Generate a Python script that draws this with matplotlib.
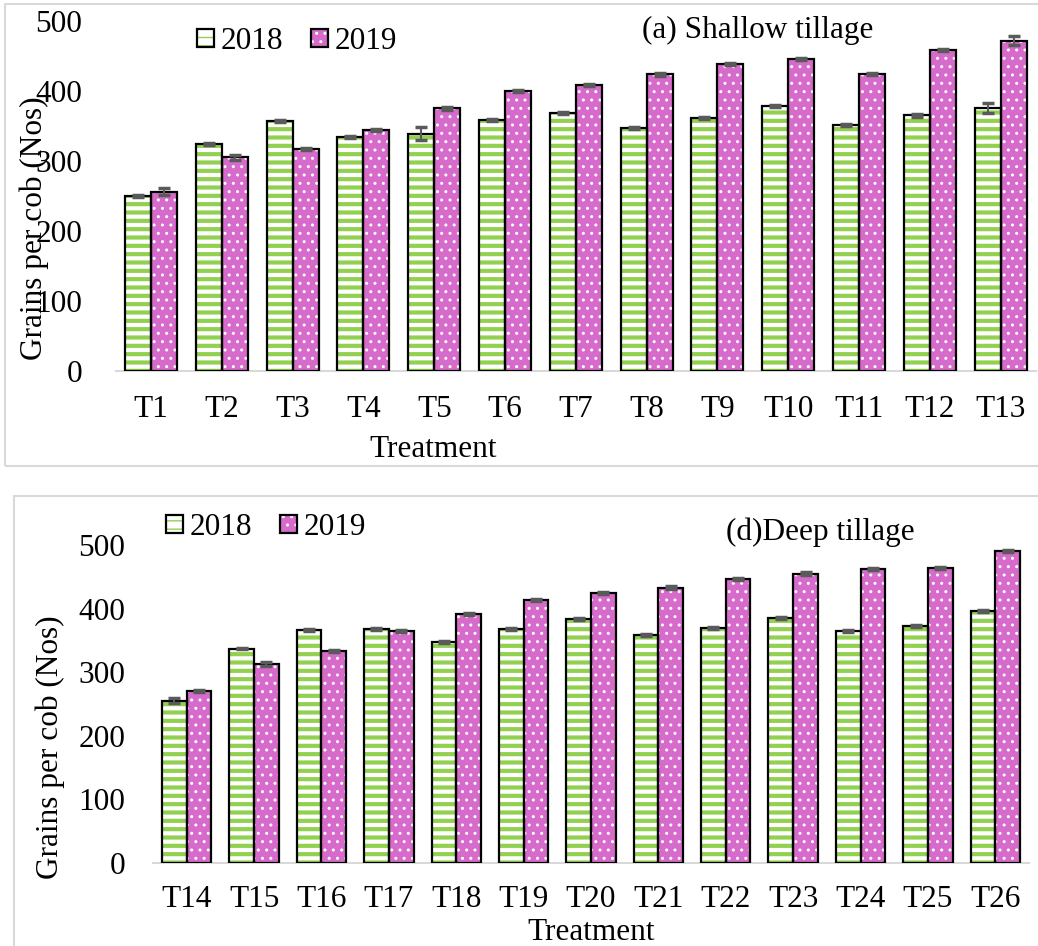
import numpy as np
import matplotlib.pyplot as plt
from matplotlib.patches import Patch, Rectangle
from matplotlib.legend_handler import HandlerTuple

plt.rcParams['font.family'] = ['Liberation Serif', 'DejaVu Serif']
FS = 22.5

GREEN = '#92D050'
PINK = '#D76BCB'
ERR = '#5A5A5A'
FRAME = '#D9D9D9'

# grains per cob, shallow tillage
shallow_trt = ['T1', 'T2', 'T3', 'T4', 'T5', 'T6', 'T7', 'T8', 'T9', 'T10', 'T11', 'T12', 'T13']
shallow_2018 = [250, 324, 357, 334, 339, 359, 369, 347, 361, 379, 351, 365, 376]
shallow_2019 = [256, 305, 317, 344, 375, 400, 409, 424, 439, 446, 424, 459, 472]
shallow_err_2018 = [1.5, 1.5, 1.5, 1.5, 9, 1.5, 1.5, 1.5, 1.5, 1.5, 1.5, 1.5, 7]
shallow_err_2019 = [5, 3.5, 1.5, 1.5, 1.5, 1.5, 1.5, 2, 1.5, 1.5, 1.5, 1.5, 7]

# grains per cob, deep tillage
deep_trt = ['T14', 'T15', 'T16', 'T17', 'T18', 'T19', 'T20', 'T21', 'T22', 'T23', 'T24', 'T25', 'T26']
deep_2018 = [255, 337, 366, 368, 347, 368, 383, 358, 370, 385, 364, 373, 396]
deep_2019 = [270, 312, 333, 365, 392, 414, 424, 433, 446, 455, 462, 464, 490]
deep_err_2018 = [3.5, 1.5, 1.5, 1.5, 1.5, 1.5, 1.5, 1.5, 1.5, 1.5, 1.5, 1.5, 1.5]
deep_err_2019 = [1.5, 3, 2, 1.5, 1.5, 1.5, 1.5, 3, 1.5, 2, 1.5, 1.5, 1.5]

W, H = 1038, 946
fig = plt.figure(figsize=(W / 100, H / 100), dpi=100)


def px(x0, y0, x1, y1):
    # pixel box -> figure fraction [left, bottom, width, height]
    return [x0 / W, 1 - y1 / H, (x1 - x0) / W, (y1 - y0) / H]


def hatch_lw(bars, lw):
    for p in bars:
        if hasattr(p, 'set_hatch_linewidth'):
            p.set_hatch_linewidth(lw)


def draw_panel(ax, labels, v18, v19, e18, e19, w=0.367):
    x = np.arange(len(labels))
    b = ax.bar(x - w / 2, v18, w, color='white', edgecolor=GREEN, hatch='--', linewidth=0, zorder=2)
    hatch_lw(b, 3.0)
    ax.bar(x - w / 2, v18, w, fill=False, edgecolor='black', linewidth=1.6, zorder=3)
    b = ax.bar(x + w / 2, v19, w, color=PINK, edgecolor='white', hatch='..', linewidth=0, zorder=2)
    hatch_lw(b, 1.0)
    ax.bar(x + w / 2, v19, w, fill=False, edgecolor='black', linewidth=1.6, zorder=3)
    ax.errorbar(x - w / 2, v18, yerr=e18, fmt='none', ecolor=ERR, elinewidth=1.5,
                capsize=4, capthick=2.5, zorder=4, clip_on=False)
    ax.errorbar(x + w / 2, v19, yerr=e19, fmt='none', ecolor=ERR, elinewidth=1.5,
                capsize=4, capthick=2.5, zorder=4, clip_on=False)
    ax.set_xticks(x)
    ax.set_xticklabels(labels)
    ax.set_xlim(-0.5, len(labels) - 0.5)
    ax.set_ylim(0, 500)
    ax.set_yticks([0, 100, 200, 300, 400, 500])
    for s in ['top', 'right', 'left']:
        ax.spines[s].set_visible(False)
    ax.spines['bottom'].set_color(FRAME)
    ax.spines['bottom'].set_linewidth(1.5)
    ax.spines['bottom'].set_zorder(1)
    ax.tick_params(length=0, labelsize=FS)
    ax.patch.set_alpha(0)


def add_legend(ax, x0, y0):
    h18 = (Patch(facecolor='white', edgecolor=GREEN, hatch='--', linewidth=0),
           Patch(fill=False, edgecolor='black', linewidth=1.6))
    h19 = (Patch(facecolor=PINK, edgecolor='white', hatch='..', linewidth=0),
           Patch(fill=False, edgecolor='black', linewidth=1.6))
    ax.legend([h18, h19], ['2018', '2019'], handler_map={tuple: HandlerTuple(ndivide=1)},
              ncol=2, frameon=False, fontsize=FS, loc='upper left',
              bbox_to_anchor=(x0 / W, 1 - y0 / H), bbox_transform=fig.transFigure,
              borderpad=0, handlelength=0.55, handleheight=0.55, handletextpad=0.2,
              columnspacing=0.9, borderaxespad=0)


# chart frames
fig.add_artist(Rectangle((5 / W, 1 - 466 / H), 1.1, 462 / H, transform=fig.transFigure,
                         fill=False, edgecolor=FRAME, linewidth=1.5))
fig.add_artist(Rectangle((13.7 / W, -0.1), 1.1, 1 - 495.7 / H + 0.1, transform=fig.transFigure,
                         fill=False, edgecolor=FRAME, linewidth=1.5))

# (a) shallow tillage
ax1 = fig.add_axes(px(115.7, 21, 1036, 371))
draw_panel(ax1, shallow_trt, shallow_2018, shallow_2019, shallow_err_2018, shallow_err_2019)
ax1.tick_params(axis='y', pad=24)
ax1.tick_params(axis='x', pad=17)
add_legend(ax1, 197, 27)
fig.text(642 / W, 1 - 38 / H, '(a) Shallow tillage', fontsize=FS, ha='left', va='baseline')
fig.text(433 / W, 1 - 457 / H, 'Treatment', fontsize=FS, ha='center', va='baseline')
fig.text(34 / W, 1 - 228 / H, 'Grains per cob (Nos)', fontsize=FS, rotation=90,
         ha='center', va='center')

# (d) deep tillage
ax2 = fig.add_axes(px(153, 545, 1029, 862.5))
draw_panel(ax2, deep_trt, deep_2018, deep_2019, deep_err_2018, deep_err_2019)
ax2.tick_params(axis='y', pad=20)
ax2.tick_params(axis='x', pad=16)
add_legend(ax2, 166, 513)
fig.text(726 / W, 1 - 540 / H, '(d)Deep tillage', fontsize=FS, ha='left', va='baseline')
fig.text(591 / W, 1 - 940 / H, 'Treatment', fontsize=FS, ha='center', va='baseline')
fig.text(50 / W, 1 - 747 / H, 'Grains per cob (Nos)', fontsize=FS, rotation=90,
         ha='center', va='center')

fig.savefig('out.png', dpi=100)
